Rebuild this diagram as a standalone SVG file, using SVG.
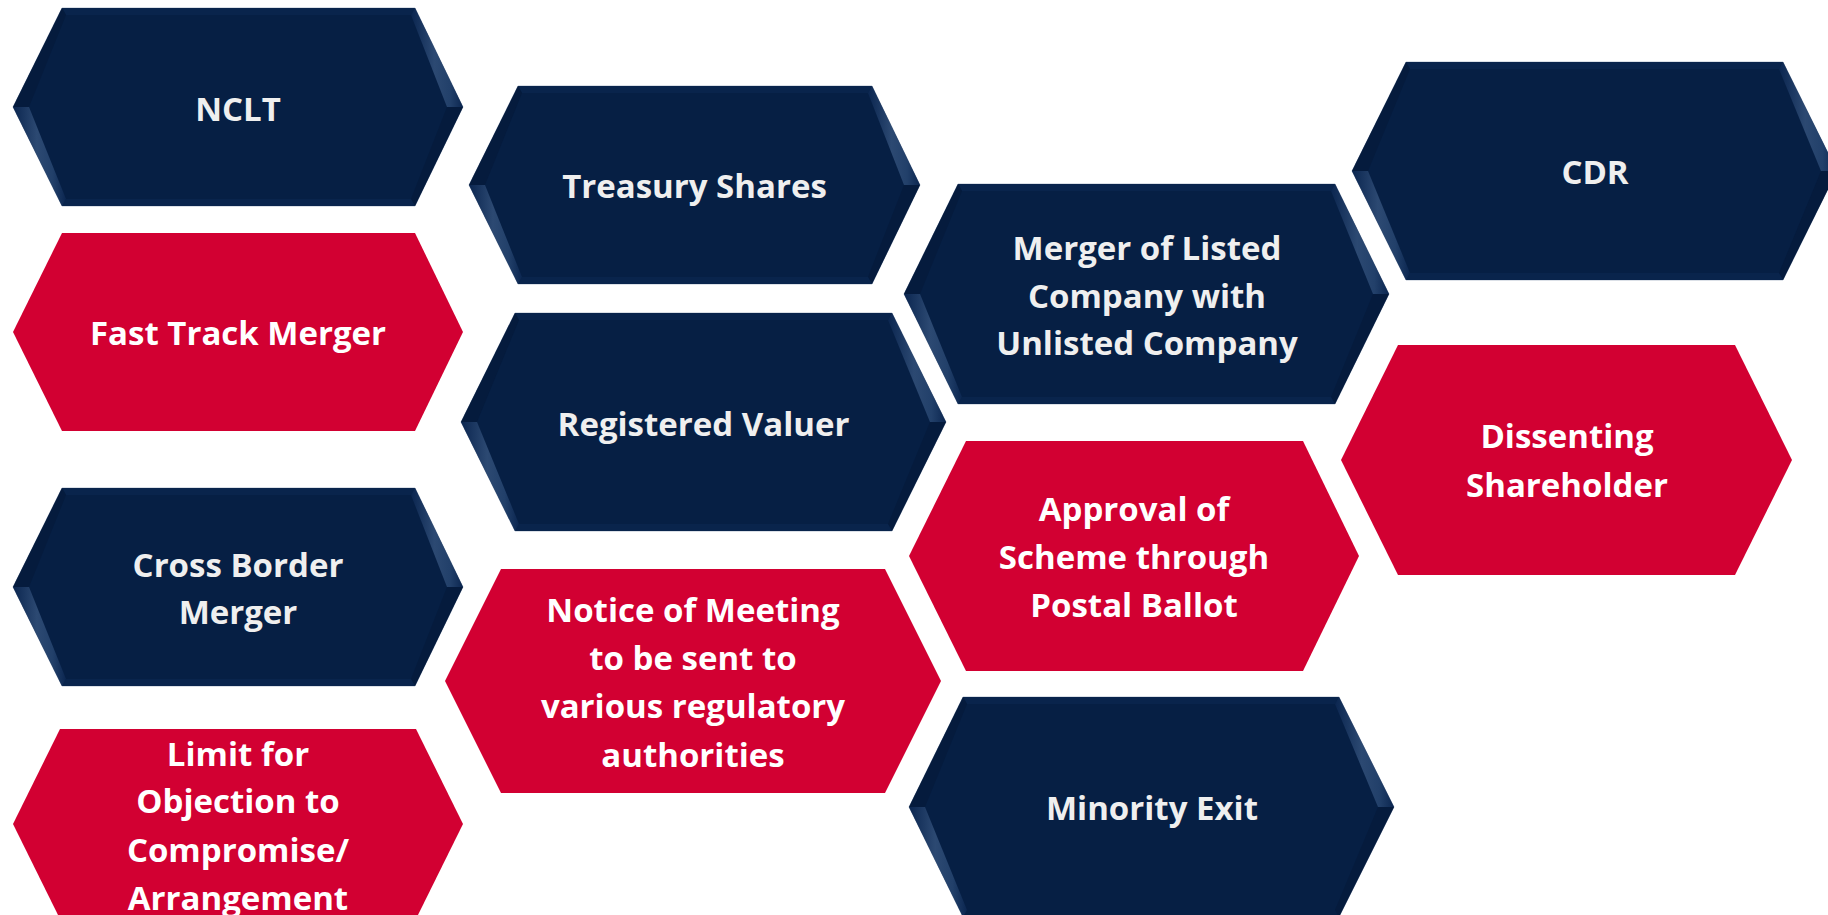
<svg xmlns="http://www.w3.org/2000/svg" width="1828" height="915" viewBox="0 0 1828 915">
  <defs>
    <linearGradient id="hlGrad" x1="0" y1="0" x2="1" y2="0">
      <stop offset="0" stop-color="#0b2650"/>
      <stop offset="0.45" stop-color="#2c4972"/>
      <stop offset="0.75" stop-color="#22406a"/>
      <stop offset="1" stop-color="#0b2650"/>
    </linearGradient>
  </defs>
  <style>
    .navy { fill: #061f44; stroke: #7d8ea8; stroke-width: 1; stroke-opacity: 0.55; }
    .red { fill: #d20032; }
    .flat { fill: #09244c; }
    .dark { fill: #051b3d; }
    .hl { fill: url(#hlGrad); }
    .lbl { font-family: "Open Sans", "Noto Sans", sans-serif; font-weight: 700; font-size: 33px; text-anchor: middle; }
    .onNavy { fill: #efefef; }
    .onRed { fill: #ffffff; }
  </style>
  <rect width="1828" height="915" fill="#ffffff"/>

  <!-- column 1 -->
  <g id="nclt">
    <polygon class="navy" points="13,107 62,8 415,8 463,107 415,206 62,206"/>
    <polygon class="flat" points="62,8 415,8 411,15 66,15"/>
    <polygon class="hl" points="415,8 463,107 447,107 411,15"/>
    <polygon class="dark" points="463,107 415,206 411,199 447,107"/>
    <polygon class="flat" points="415,206 62,206 66,199 411,199"/>
    <polygon class="hl" points="62,206 13,107 29,107 66,199"/>
    <polygon class="dark" points="13,107 62,8 66,15 29,107"/>
    <text class="lbl onNavy" x="238" y="121">NCLT</text>
  </g>

  <g id="fast-track-merger">
    <polygon class="red" points="13,332 62,233 415,233 463,332 415,431 62,431"/>
    <text class="lbl onRed" x="238" y="345">Fast Track Merger</text>
  </g>

  <g id="cross-border-merger">
    <polygon class="navy" points="13,587 62,488 415,488 463,587 415,686 62,686"/>
    <polygon class="flat" points="62,488 415,488 411,495 66,495"/>
    <polygon class="hl" points="415,488 463,587 447,587 411,495"/>
    <polygon class="dark" points="463,587 415,686 411,679 447,587"/>
    <polygon class="flat" points="415,686 62,686 66,679 411,679"/>
    <polygon class="hl" points="62,686 13,587 29,587 66,679"/>
    <polygon class="dark" points="13,587 62,488 66,495 29,587"/>
    <text class="lbl onNavy" x="238" y="577">Cross Border</text>
    <text class="lbl onNavy" x="238" y="624">Merger</text>
  </g>

  <g id="limit-for-objection">
    <polygon class="red" points="13,824 60,729 416,729 463,824 416,919 60,919"/>
    <text class="lbl onRed" x="238" y="766">Limit for</text>
    <text class="lbl onRed" x="238" y="813">Objection to</text>
    <text class="lbl onRed" x="238" y="862">Compromise/</text>
    <text class="lbl onRed" x="238" y="910">Arrangement</text>
  </g>

  <!-- column 2 -->
  <g id="treasury-shares">
    <polygon class="navy" points="469,185 518,86 872,86 920,185 872,284 518,284"/>
    <polygon class="flat" points="518,86 872,86 868,93 522,93"/>
    <polygon class="hl" points="872,86 920,185 904,185 868,93"/>
    <polygon class="dark" points="920,185 872,284 868,277 904,185"/>
    <polygon class="flat" points="872,284 518,284 522,277 868,277"/>
    <polygon class="hl" points="518,284 469,185 485,185 522,277"/>
    <polygon class="dark" points="469,185 518,86 522,93 485,185"/>
    <text class="lbl onNavy" x="694.5" y="198">Treasury Shares</text>
  </g>

  <g id="registered-valuer">
    <polygon class="navy" points="461,422 515,313 892,313 946,422 892,531 515,531"/>
    <polygon class="flat" points="515,313 892,313 888,320 519,320"/>
    <polygon class="hl" points="892,313 946,422 930,422 888,320"/>
    <polygon class="dark" points="946,422 892,531 888,524 930,422"/>
    <polygon class="flat" points="892,531 515,531 519,524 888,524"/>
    <polygon class="hl" points="515,531 461,422 477,422 519,524"/>
    <polygon class="dark" points="461,422 515,313 519,320 477,422"/>
    <text class="lbl onNavy" x="703.5" y="436">Registered Valuer</text>
  </g>

  <g id="notice-of-meeting">
    <polygon class="red" points="445,681 501,569 885,569 941,681 885,793 501,793"/>
    <text class="lbl onRed" x="693" y="622">Notice of Meeting</text>
    <text class="lbl onRed" x="693" y="670">to be sent to</text>
    <text class="lbl onRed" x="693" y="718">various regulatory</text>
    <text class="lbl onRed" x="693" y="767">authorities</text>
  </g>

  <!-- column 3 -->
  <g id="merger-listed-unlisted">
    <polygon class="navy" points="904,294 958,184 1335,184 1389,294 1335,404 958,404"/>
    <polygon class="flat" points="958,184 1335,184 1331,191 962,191"/>
    <polygon class="hl" points="1335,184 1389,294 1373,294 1331,191"/>
    <polygon class="dark" points="1389,294 1335,404 1331,397 1373,294"/>
    <polygon class="flat" points="1335,404 958,404 962,397 1331,397"/>
    <polygon class="hl" points="958,404 904,294 920,294 962,397"/>
    <polygon class="dark" points="904,294 958,184 962,191 920,294"/>
    <text class="lbl onNavy" x="1147" y="260">Merger of Listed</text>
    <text class="lbl onNavy" x="1147" y="308">Company with</text>
    <text class="lbl onNavy" x="1147" y="355">Unlisted Company</text>
  </g>

  <g id="approval-postal-ballot">
    <polygon class="red" points="909,556 966,441 1303,441 1359,556 1303,671 966,671"/>
    <text class="lbl onRed" x="1134" y="521">Approval of</text>
    <text class="lbl onRed" x="1134" y="569">Scheme through</text>
    <text class="lbl onRed" x="1134" y="617">Postal Ballot</text>
  </g>

  <g id="minority-exit">
    <polygon class="navy" points="909,807 963,697 1339,697 1394,807 1339,917 963,917"/>
    <polygon class="flat" points="963,697 1339,697 1335,704 967,704"/>
    <polygon class="hl" points="1339,697 1394,807 1378,807 1335,704"/>
    <polygon class="dark" points="1394,807 1339,917 1335,910 1378,807"/>
    <polygon class="hl" points="963,917 909,807 925,807 967,910"/>
    <polygon class="dark" points="909,807 963,697 967,704 925,807"/>
    <text class="lbl onNavy" x="1152" y="820">Minority Exit</text>
  </g>

  <!-- column 4 -->
  <g id="cdr">
    <polygon class="navy" points="1352,171 1406,62 1783,62 1837,171 1783,280 1406,280"/>
    <polygon class="flat" points="1406,62 1783,62 1779,69 1410,69"/>
    <polygon class="hl" points="1783,62 1837,171 1821,171 1779,69"/>
    <polygon class="dark" points="1837,171 1783,280 1779,273 1821,171"/>
    <polygon class="flat" points="1783,280 1406,280 1410,273 1779,273"/>
    <polygon class="hl" points="1406,280 1352,171 1368,171 1410,273"/>
    <polygon class="dark" points="1352,171 1406,62 1410,69 1368,171"/>
    <text class="lbl onNavy" x="1595" y="184">CDR</text>
  </g>

  <g id="dissenting-shareholder">
    <polygon class="red" points="1341,460 1398,345 1735,345 1792,460 1735,575 1398,575"/>
    <text class="lbl onRed" x="1567" y="448">Dissenting</text>
    <text class="lbl onRed" x="1567" y="497">Shareholder</text>
  </g>
</svg>
